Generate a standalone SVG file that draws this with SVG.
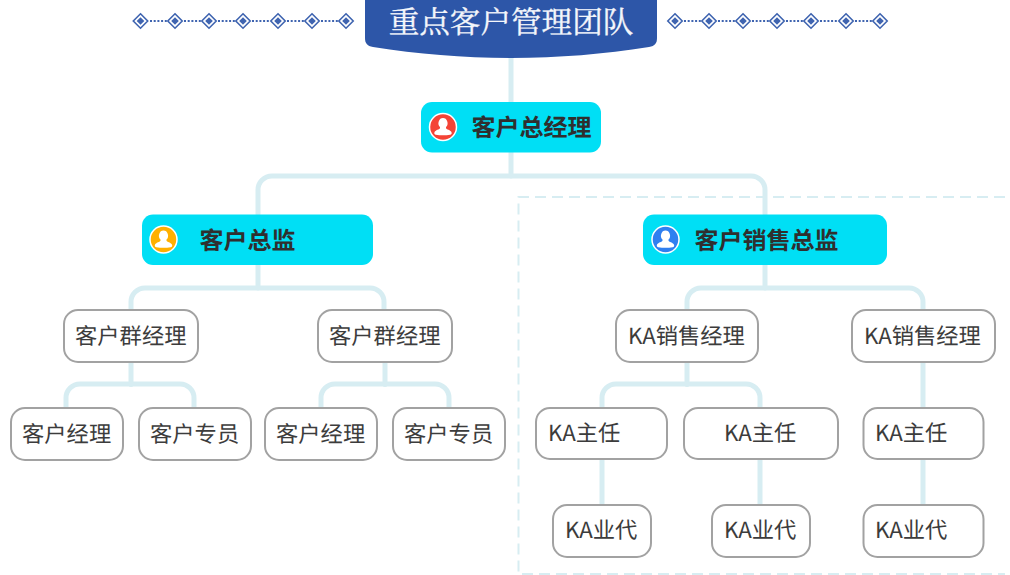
<svg xmlns="http://www.w3.org/2000/svg" xmlns:xlink="http://www.w3.org/1999/xlink" width="1010" height="575" viewBox="0 0 1010 575">
<style>
text{font-family:"Noto Sans CJK SC","Noto Sans",sans-serif;text-rendering:geometricPrecision}
.line{fill:none;stroke:#d7edf2;stroke-width:5;stroke-linecap:round}
.dash{fill:none;stroke:#d7edf2;stroke-width:2;stroke-dasharray:11 6}
.top{fill:#00dff5}
.top-t{font-size:24px;font-weight:700;fill:#2f2f2f}
.box{fill:#fff;stroke:#a2a2a2;stroke-width:2}
.box-t{font-size:22.300px;fill:#3c3c3c}
.title-t{font-size:30.600px;fill:#f4f6fb;font-family:"Noto Serif CJK SC","Liberation Serif",serif;stroke:#f4f6fb;stroke-width:.35}
.dot{fill:none;stroke:#3f64b0;stroke-width:2;stroke-dasharray:2 1.700}
.dia{fill:none;stroke:#3f64b0;stroke-width:1.600}
.dic{fill:#3f64b0}
</style>
<defs>
<g id="d"><path class="dia" d="M0-7.200L7.200 0L0 7.200L-7.200 0Z"/><path class="dic" d="M0-3.800L3.800 0L0 3.800L-3.800 0Z"/></g>
<g id="p"><path fill="#fff" d="M0-9a4.600 5.200 0 0 1 3 9.100v1.200c0 1 4.800 1.800 5.600 4.200c.4 1.300-.3 2-1.400 2.200c-4.800.8-9.600.8-14.400 0c-1.100-.2-1.800-.9-1.400-2.200c.8-2.400 5.600-3.200 5.600-4.200v-1.200a4.600 5.200 0 0 1 3-9.100z"/></g>
</defs>
<rect width="1010" height="575" fill="#fff"/>
<g id="frame"><path class="dash" d="M1005 197H518.500V574H1005"/></g>
<g id="ornaments">
<path class="dot" d="M150 21H167M184 21H201M218 21H235M252 21H270M287 21H304M321 21H338M684 21H701M718 21H735M752 21H769M786 21H803M820 21H838M855 21H872"/>
<use xlink:href="#d" x="140.500" y="21"/><use xlink:href="#d" x="175" y="21"/><use xlink:href="#d" x="209" y="21"/><use xlink:href="#d" x="243" y="21"/><use xlink:href="#d" x="278" y="21"/><use xlink:href="#d" x="312" y="21"/><use xlink:href="#d" x="346" y="21"/>
<use xlink:href="#d" x="675" y="21"/><use xlink:href="#d" x="709" y="21"/><use xlink:href="#d" x="743" y="21"/><use xlink:href="#d" x="777" y="21"/><use xlink:href="#d" x="811" y="21"/><use xlink:href="#d" x="846" y="21"/><use xlink:href="#d" x="880" y="21"/>
</g>
<g id="connectors">
<path class="line" d="M511 56V176"/>
<path class="line" d="M258 214V190a14 14 0 0 1 14-14H751a14 14 0 0 1 14 14V214"/>
<path class="line" d="M258 265V288"/>
<path class="line" d="M131 310V302a14 14 0 0 1 14-14H370a14 14 0 0 1 14 14V310"/>
<path class="line" d="M131 362V384.500"/>
<path class="line" d="M66 408V398a14 14 0 0 1 14-14H180a14 14 0 0 1 14 14V408"/>
<path class="line" d="M385 362V384.500"/>
<path class="line" d="M321 408V398a14 14 0 0 1 14-14H435a14 14 0 0 1 14 14V408"/>
<path class="line" d="M765 265V288"/>
<path class="line" d="M687 310V302a14 14 0 0 1 14-14H909a14 14 0 0 1 14 14V310"/>
<path class="line" d="M687 362V384.500"/>
<path class="line" d="M602 408V398a14 14 0 0 1 14-14H746a14 14 0 0 1 14 14V408"/>
<path class="line" d="M923 362V408"/>
<path class="line" d="M602 459V505"/>
<path class="line" d="M760 459V505"/>
<path class="line" d="M923 459V505"/>
</g>
<g id="root"><path fill="#2d56a8" d="M365 0V38c0 5 2 8 8 9c45 7 90 11 138 11s93-4 138-11c6-1 8-4 8-9V0Z"/><text class="title-t" x="511" y="33" text-anchor="middle">重点客户管理团队</text></g>
<g id="n-gm"><rect class="top" x="421" y="102" width="180" height="50.500" rx="11"/><circle cx="443" cy="127" r="13.500" fill="#f44336" stroke="#fff" stroke-width="1.500"/><use xlink:href="#p" x="443" y="127"/><text class="top-t" x="471.500" y="136">客户总经理</text></g>
<g id="n-cd"><rect class="top" x="142" y="214.500" width="231" height="50.500" rx="11"/><circle cx="163.500" cy="239.500" r="13.500" fill="#ffb000" stroke="#fff" stroke-width="1.500"/><use xlink:href="#p" x="163.500" y="239.500"/><text class="top-t" x="199.500" y="248.500">客户总监</text></g>
<g id="n-sd"><rect class="top" x="643" y="214.500" width="244" height="50.500" rx="11"/><circle cx="665.500" cy="239.500" r="13.500" fill="#2f7ff0" stroke="#fff" stroke-width="1.500"/><use xlink:href="#p" x="665.500" y="239.500"/><text class="top-t" x="694.500" y="248.500">客户销售总监</text></g>
<g id="n-cg1"><rect class="box" x="64" y="310" width="134" height="52" rx="14"/><text class="box-t" x="75" y="344">客户群经理</text></g>
<g id="n-cg2"><rect class="box" x="318" y="310" width="134" height="52" rx="14"/><text class="box-t" x="329" y="344">客户群经理</text></g>
<g id="n-c1"><rect class="box" x="11" y="408" width="112" height="52" rx="14"/><text class="box-t" x="22" y="441.500">客户经理</text></g>
<g id="n-c2"><rect class="box" x="139" y="408" width="112" height="52" rx="14"/><text class="box-t" x="150" y="441.500">客户专员</text></g>
<g id="n-c3"><rect class="box" x="265" y="408" width="112" height="52" rx="14"/><text class="box-t" x="276" y="441.500">客户经理</text></g>
<g id="n-c4"><rect class="box" x="393" y="408" width="112" height="52" rx="14"/><text class="box-t" x="404" y="441.500">客户专员</text></g>
<g id="n-ka1"><rect class="box" x="616" y="310" width="142" height="52" rx="14"/><text class="box-t" x="628" y="344">KA销售经理</text></g>
<g id="n-ka2"><rect class="box" x="852" y="310" width="143" height="52" rx="14"/><text class="box-t" x="864" y="344">KA销售经理</text></g>
<g id="n-z1"><rect class="box" x="536" y="408" width="131" height="51" rx="14"/><text class="box-t" x="548" y="441">KA主任</text></g>
<g id="n-z2"><rect class="box" x="684" y="408" width="154" height="51" rx="14"/><text class="box-t" x="724" y="441">KA主任</text></g>
<g id="n-z3"><rect class="box" x="863.500" y="408" width="120" height="51" rx="14"/><text class="box-t" x="875" y="441">KA主任</text></g>
<g id="n-y1"><rect class="box" x="553" y="505" width="98" height="52" rx="14"/><text class="box-t" x="565" y="538">KA业代</text></g>
<g id="n-y2"><rect class="box" x="712" y="505" width="98" height="52" rx="14"/><text class="box-t" x="724" y="538">KA业代</text></g>
<g id="n-y3"><rect class="box" x="863.500" y="505" width="120" height="52" rx="14"/><text class="box-t" x="875" y="538">KA业代</text></g>
</svg>
